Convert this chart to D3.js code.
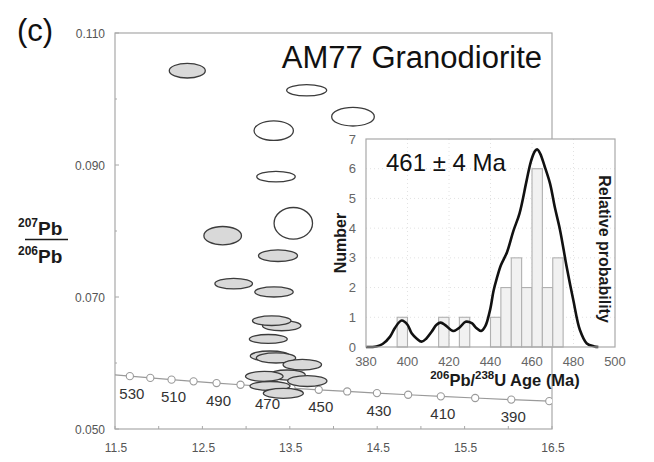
<html>
  <head>
    <style>
      body { margin: 0; background: #fff; }
      text { font-family: Arial, "Liberation Sans", sans-serif; }
    </style>
  </head>
  <body>
    <div id="chart"></div>
    <script src="https://cdn.jsdelivr.net/npm/d3@7"></script>
    <script>
      // zircon analyses: 238U/206Pb, 207Pb/206Pb and their error half-widths
      var ellX  = [12.327, 13.693, 14.223, 13.316, 13.342, 13.540, 12.732, 13.365, 12.858, 13.319,
                   13.407, 13.293, 13.254, 13.273, 13.342, 13.643, 13.471, 13.208, 13.700, 13.273, 13.426];
      var ellY  = [0.10429, 0.10132, 0.09732, 0.09520, 0.08823, 0.08117, 0.07929, 0.07626, 0.07202, 0.07076,
                   0.06565, 0.06641, 0.06364, 0.06106, 0.06076, 0.05974, 0.05818, 0.05798, 0.05727, 0.05652, 0.05541];
      var ellSX = [0.206, 0.229, 0.244, 0.225, 0.220, 0.220, 0.215, 0.223, 0.215, 0.220,
                   0.220, 0.220, 0.217, 0.225, 0.225, 0.220, 0.206, 0.215, 0.225, 0.229, 0.229];
      var ellSY = [0.00111, 0.00086, 0.00141, 0.00148, 0.00080, 0.00239, 0.00139, 0.00088, 0.00080, 0.00076,
                   0.00076, 0.00073, 0.00068, 0.00076, 0.00076, 0.00080, 0.00076, 0.00076, 0.00083, 0.00068, 0.00076];
      var ellUsed = [true, false, false, false, false, false, true, true, true, true,
                     true, true, true, true, true, true, true, true, true, true, true];

      // concordia (Ma) with 238U/206Pb and 207Pb/206Pb
      var concAge = [540, 530, 520, 510, 500, 490, 480, 470, 460, 450, 440, 430, 420, 410, 400, 390, 380];
      var concX = [11.445, 11.670, 11.904, 12.147, 12.399, 12.662, 12.936, 13.222, 13.520, 13.831,
                   14.157, 14.497, 14.854, 15.228, 15.621, 16.034, 16.469];
      var concY = [0.058272, 0.058006, 0.057742, 0.057480, 0.057219, 0.056960, 0.056704, 0.056447, 0.056193, 0.055940,
                   0.055690, 0.055440, 0.055191, 0.054945, 0.054700, 0.054457, 0.054216];
      var concLabels = [530, 510, 490, 470, 450, 430, 410, 390];

      var xTicks = [11.5, 12.5, 13.5, 14.5, 15.5, 16.5];
      var yTicks = [0.050, 0.070, 0.090, 0.110];

      // histogram of 206Pb/238U ages (5 Ma bins)
      var binStart = [395, 415, 425, 440, 445, 450, 455, 460, 465, 470];
      var binCount = [1, 1, 1, 1, 2, 3, 2, 6, 2, 3];
      // relative probability curve (in "number" units)
      var probAge = [380, 385, 388, 391.6, 394, 397.2, 400, 402, 404.5, 406.8, 409, 411.7, 414, 416, 418.5, 422,
                     425, 428, 431, 433, 435.5, 437.5, 439.8, 441.5, 443, 445, 448, 451, 454, 457.4, 459.5,
                     461.5, 462.6, 464, 466, 468.7, 471, 473.5, 476.7, 479.9, 483.1, 486.4, 490, 492];
      var probVal = [0, 0.02, 0.1, 0.35, 0.65, 0.89, 0.75, 0.46, 0.28, 0.18, 0.28, 0.52, 0.75, 0.82, 0.72, 0.54,
                     0.65, 0.85, 0.8, 0.65, 0.54, 0.7, 1.25, 1.9, 2.3, 2.75, 3.2, 3.9, 4.5, 5.6, 6.25,
                     6.6, 6.65, 6.5, 6.1, 5.5, 4.7, 3.94, 2.7, 1.58, 0.57, 0.12, 0.02, 0];
      var histXTicks = [380, 400, 420, 440, 460, 480, 500];
      var histYTicks = [0, 1, 2, 3, 4, 5, 6, 7];

      var width = 654, height = 462;
      var svg = d3.select("#chart").append("svg")
        .attr("width", width).attr("height", height);

      var x = d3.scaleLinear().domain([11.5, 16.5]).range([115, 552]);
      var y = d3.scaleLinear().domain([0.05, 0.11]).range([429, 33]);

      svg.append("defs").append("clipPath").attr("id", "plotclip")
        .append("rect").attr("x", 115).attr("y", 33).attr("width", 437).attr("height", 396);

      // frame
      var frameColor = "#a8a8a8";
      svg.append("rect").attr("x", 115).attr("y", 33).attr("width", 437).attr("height", 396)
        .attr("fill", "none").attr("stroke", frameColor).attr("stroke-width", 1.2);

      // ticks (inward)
      var yAll = d3.range(0.05, 0.1101, 0.01);
      svg.selectAll(".ytk").data(yAll).enter().append("line")
        .attr("x1", 115).attr("x2", function (d, i) { return i % 2 === 0 ? 119 : 117; })
        .attr("y1", function (d) { return y(d); }).attr("y2", function (d) { return y(d); })
        .attr("stroke", frameColor);
      var xAll = d3.range(11.5, 16.51, 0.5);
      svg.selectAll(".xtk").data(xAll).enter().append("line")
        .attr("x1", function (d) { return x(d); }).attr("x2", function (d) { return x(d); })
        .attr("y1", 429).attr("y2", 426)
        .attr("stroke", frameColor);

      svg.selectAll(".ylab").data(yTicks).enter().append("text")
        .attr("x", 105).attr("y", function (d) { return y(d) + 4.5; })
        .attr("text-anchor", "end").attr("font-size", 12).attr("fill", "#555")
        .text(function (d) { return d3.format(".3f")(d); });
      svg.selectAll(".xlab").data(xTicks).enter().append("text")
        .attr("x", function (d) { return x(d) + 1; }).attr("y", 452)
        .attr("text-anchor", "middle").attr("font-size", 12).attr("fill", "#555")
        .text(function (d) { return d3.format(".1f")(d); });

      // concordia
      var conc = concAge.map(function (a, i) { return { age: a, x: concX[i], y: concY[i] }; });
      var g = svg.append("g").attr("clip-path", "url(#plotclip)");
      g.append("path").datum(conc)
        .attr("d", d3.line().x(function (d) { return x(d.x); }).y(function (d) { return y(d.y); }))
        .attr("fill", "none").attr("stroke", "#9a9a9a").attr("stroke-width", 1.2);
      g.selectAll(".mk").data(conc.filter(function (d) { return d.age <= 530; })).enter().append("circle")
        .attr("cx", function (d) { return x(d.x); }).attr("cy", function (d) { return y(d.y); })
        .attr("r", 3.6).attr("fill", "#fff").attr("stroke", "#9a9a9a").attr("stroke-width", 1.1);
      svg.selectAll(".clab").data(conc.filter(function (d) { return concLabels.indexOf(d.age) >= 0; }))
        .enter().append("text")
        .attr("x", function (d) { return x(d.x) + 2; }).attr("y", function (d) { return y(d.y) + 22.5; })
        .attr("text-anchor", "middle").attr("font-size", 15).attr("fill", "#333")
        .text(function (d) { return d.age; });

      // error ellipses
      var ells = ellX.map(function (v, i) {
        return { x: v, y: ellY[i], sx: ellSX[i], sy: ellSY[i], used: ellUsed[i] };
      });
      g.selectAll(".ell").data(ells).enter().append("ellipse")
        .attr("cx", function (d) { return x(d.x); }).attr("cy", function (d) { return y(d.y); })
        .attr("rx", function (d) { return x(d.x + d.sx) - x(d.x); })
        .attr("ry", function (d) { return y(d.y) - y(d.y + d.sy); })
        .attr("fill", function (d) { return d.used ? "#d9d9d9" : "#fff"; })
        .attr("stroke", "#3c3c3c").attr("stroke-width", 1.3);

      // titles
      svg.append("text").attr("x", 17).attr("y", 41).attr("font-size", 31).attr("fill", "#111").text("(c)");
      svg.append("text").attr("x", 542).attr("y", 68).attr("text-anchor", "end")
        .attr("font-size", 31).attr("fill", "#111").text("AM77 Granodiorite");

      var yl = svg.append("g").attr("fill", "#1a1a1a").attr("font-weight", "bold");
      var num = yl.append("text").attr("x", 18).attr("y", 235);
      num.append("tspan").attr("font-size", 12).attr("dy", -8).text("207");
      num.append("tspan").attr("font-size", 19).attr("dy", 8).text("Pb");
      yl.append("line").attr("x1", 25).attr("x2", 68).attr("y1", 239.5).attr("y2", 239.5)
        .attr("stroke", "#1a1a1a").attr("stroke-width", 1.6);
      var den = yl.append("text").attr("x", 18).attr("y", 263);
      den.append("tspan").attr("font-size", 12).attr("dy", -8).text("206");
      den.append("tspan").attr("font-size", 19).attr("dy", 8).text("Pb");

      // inset histogram
      var hx = d3.scaleLinear().domain([380, 500]).range([366, 615]);
      var hy = d3.scaleLinear().domain([0, 7]).range([347, 139]);
      var inset = svg.append("g");
      inset.append("rect").attr("x", 366).attr("y", 139).attr("width", 249).attr("height", 208)
        .attr("fill", "#fff");
      inset.selectAll(".gv").data(histXTicks.slice(1, -1)).enter().append("line")
        .attr("x1", function (d) { return hx(d); }).attr("x2", function (d) { return hx(d); })
        .attr("y1", 139).attr("y2", 347)
        .attr("stroke", "#e2e2e2").attr("stroke-dasharray", "1,3");
      inset.selectAll(".gh").data(histYTicks.slice(1, -1)).enter().append("line")
        .attr("x1", 366).attr("x2", 615)
        .attr("y1", function (d) { return hy(d); }).attr("y2", function (d) { return hy(d); })
        .attr("stroke", "#e2e2e2").attr("stroke-dasharray", "1,3");
      inset.selectAll(".bar").data(binStart).enter().append("rect")
        .attr("x", function (d) { return hx(d); })
        .attr("y", function (d, i) { return hy(binCount[i]); })
        .attr("width", function (d) { return hx(d + 5) - hx(d); })
        .attr("height", function (d, i) { return hy(0) - hy(binCount[i]); })
        .attr("fill", "#f1f1f1").attr("stroke", "#b0b0b0").attr("stroke-width", 1.1);
      var prob = probAge.map(function (a, i) { return [a, probVal[i]]; });
      inset.append("path").datum(prob)
        .attr("d", d3.line().curve(d3.curveCatmullRom)
          .x(function (d) { return hx(d[0]); }).y(function (d) { return hy(d[1]); }))
        .attr("fill", "none").attr("stroke", "#111").attr("stroke-width", 2.6);
      inset.append("rect").attr("x", 366).attr("y", 139).attr("width", 249).attr("height", 208)
        .attr("fill", "none").attr("stroke", frameColor).attr("stroke-width", 1.2);

      inset.selectAll(".hxl").data(histXTicks).enter().append("text")
        .attr("x", function (d) { return hx(d); }).attr("y", 366)
        .attr("text-anchor", "middle").attr("font-size", 13).attr("fill", "#666")
        .text(function (d) { return d; });
      inset.selectAll(".hyl").data(histYTicks).enter().append("text")
        .attr("x", 356).attr("y", function (d) { return hy(d) + 4.5; })
        .attr("text-anchor", "end").attr("font-size", 13).attr("fill", "#666")
        .text(function (d) { return d; });

      inset.append("text").attr("x", 386).attr("y", 171).attr("font-size", 24).attr("fill", "#111")
        .text("461 \u00b1 4 Ma");

      var xt = inset.append("text").attr("x", 505).attr("y", 386).attr("text-anchor", "middle")
        .attr("font-weight", "bold").attr("font-size", 16.5).attr("fill", "#1a1a1a");
      xt.append("tspan").attr("font-size", 11.5).attr("dy", -7).text("206");
      xt.append("tspan").attr("dy", 7).text("Pb/");
      xt.append("tspan").attr("font-size", 11.5).attr("dy", -7).text("238");
      xt.append("tspan").attr("dy", 7).text("U Age (Ma)");

      inset.append("text").attr("transform", "translate(346,243) rotate(-90)")
        .attr("text-anchor", "middle").attr("font-weight", "bold").attr("font-size", 16)
        .attr("fill", "#1a1a1a").text("Number");
      inset.append("text").attr("transform", "translate(599,249) rotate(90)")
        .attr("text-anchor", "middle").attr("font-weight", "bold").attr("font-size", 16)
        .attr("fill", "#1a1a1a").text("Relative probability");
    </script>
  </body>
</html>
